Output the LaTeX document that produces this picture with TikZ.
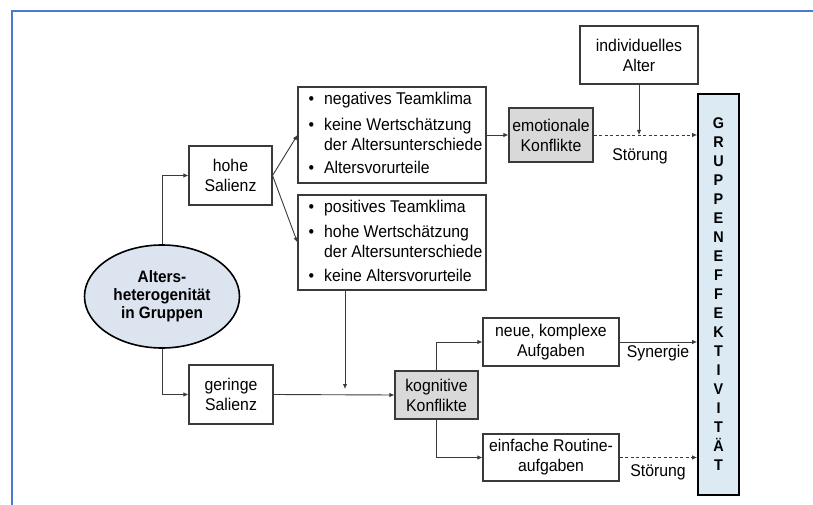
\documentclass[tikz,border=0pt]{standalone}
\usepackage{fontspec}
\setmainfont[FakeStretch=0.93]{Liberation Sans}
\usetikzlibrary{arrows.meta,shapes.geometric}
\definecolor{frameblue}{HTML}{4A7BD0}
\definecolor{gruppblue}{HTML}{DCEBF3}
\definecolor{ellblue}{HTML}{DCE4F0}
\definecolor{konfgray}{HTML}{D9D9D9}
\definecolor{linegray}{HTML}{3A3A3A}
\begin{document}
\begin{tikzpicture}[x=1pt,y=-1pt,
  txt/.style={font=\fontsize{17}{20}\selectfont},
  box/.style={txt, draw=linegray, line width=1.1pt, fill=white, inner sep=0pt, align=center},
  graybox/.style={box, fill=konfgray},
  conn/.style={draw=linegray, line width=0.9pt, -{Latex[length=5pt,width=4.5pt]}},
  dconn/.style={conn, dash pattern=on 3pt off 2.5pt},
  lbl/.style={txt, inner sep=0pt}
]
\useasboundingbox (0,0) rectangle (813,505);
\draw[frameblue, line width=2.2pt] (12,505) -- (12,11) -- (813,11);

\node[box, minimum width=118, minimum height=58] (alter) at (639,55) {individuelles\\Alter};
\node[graybox, minimum width=84, minimum height=54] (emo) at (551,135) {emotionale\\Konflikte};
\node[draw=black, line width=1.8pt, fill=gruppblue, minimum width=41, minimum height=401,
      inner sep=0pt, align=center, font=\fontsize{15.5}{19}\selectfont\bfseries] (gr) at (718.5,294.5)
  {G\\R\\U\\P\\P\\E\\N\\E\\F\\F\\E\\K\\T\\I\\V\\I\\T\\Ä\\T};

\node[box, minimum width=83, minimum height=59] (hohe) at (230.5,175.5) {hohe\\Salienz};
\node[box, minimum width=188, minimum height=96] (neg) at (392,135)
  {\hspace*{7pt}\begin{tabular}{@{}l@{\hspace{10pt}}l@{}}
   • & negatives Teamklima\\[6pt]
   • & keine Wertschätzung\\
     & der Altersunterschiede\\[3pt]
   • & Altersvorurteile
   \end{tabular}};
\node[box, minimum width=188, minimum height=95] (pos) at (392,242.5)
  {\hspace*{7pt}\begin{tabular}{@{}l@{\hspace{10pt}}l@{}}
   • & positives Teamklima\\[5pt]
   • & hohe Wertschätzung\\
     & der Altersunterschiede\\[4pt]
   • & keine Altersvorurteile
   \end{tabular}};

\node[ellipse, draw=black, line width=1.6pt, fill=ellblue, minimum width=155, minimum height=103,
      inner sep=0pt, align=center, font=\fontsize{16.5}{18}\selectfont\bfseries] (ell) at (162,296.5)
  {Alters-\\heterogenität\\in Gruppen};

\node[box, minimum width=84, minimum height=59] (ger) at (231,394.5) {geringe\\Salienz};
\node[graybox, minimum width=83, minimum height=48] (kog) at (436.5,395) {kognitive\\Konflikte};
\node[box, minimum width=136, minimum height=48] (neue) at (551,342) {neue, komplexe\\Aufgaben};
\node[box, minimum width=136, minimum height=47] (einf) at (551,457.5) {einfache Routine-\\aufgaben};

\node[lbl] (st1) at (640,156) {Störung};
\node[lbl] (syn) at (658,353) {Synergie};
\node[lbl] (st2) at (658,472) {Störung};

\coordinate (p1) at (345,290);
\coordinate (p2) at (345,389);

\draw[conn] (ell.north) |- (hohe.west);
\draw[conn] (ell.south) |- (ger.west);
\draw[conn] (hohe.east) -- (neg.west);
\draw[conn] (hohe.east) -- (pos.west);
\draw[conn] (neg.east) -- (emo.west);
\draw[dconn] (emo.east) -- (emo.east -| gr.west);
\draw[conn] (alter.south) -- (alter.south |- emo.east);
\draw[conn] (p1) -- (p2);
\draw[conn] (ger.east) -- (kog.west);
\draw[conn] (kog.north) |- (neue.west);
\draw[conn] (kog.south) |- (einf.west);
\draw[conn] (neue.east) -- (neue.east -| gr.west);
\draw[dconn] (einf.east) -- (einf.east -| gr.west);
\end{tikzpicture}
\end{document}
